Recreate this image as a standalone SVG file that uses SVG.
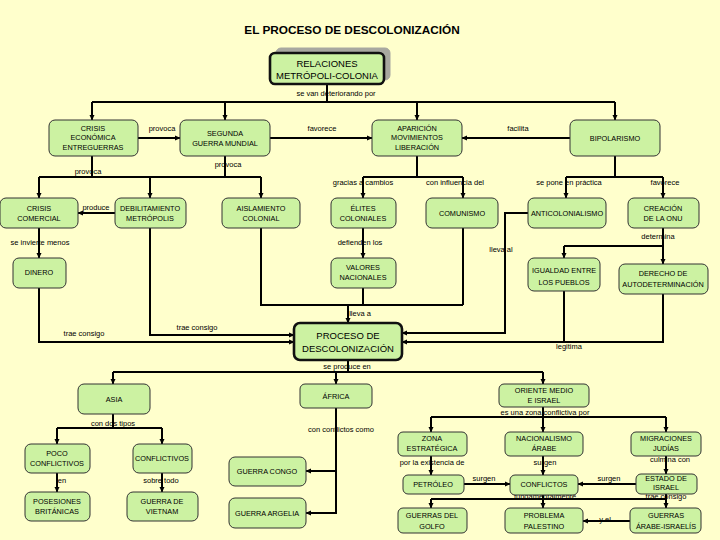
<svg xmlns="http://www.w3.org/2000/svg" width="720" height="540" viewBox="0 0 720 540">
<defs>
<marker id="a" markerWidth="6" markerHeight="6" refX="5" refY="3" orient="auto" markerUnits="userSpaceOnUse"><path d="M0,0.5 L5.5,3 L0,5.5 z" fill="#000"/></marker>
<style>
.n rect{fill:#CCF2A2;stroke:#333;stroke-width:1}
.k rect{fill:#CCF2A2;stroke:#111;stroke-width:2.6}
text{font-family:"Liberation Sans",Arial,sans-serif;fill:#000}
.t{font-size:7.3px;text-anchor:middle}
.l{font-size:7.5px;text-anchor:middle}
.b{font-size:9.5px;text-anchor:middle}
#conn path{fill:none;stroke:#000;stroke-width:2}
#conn path.ar{marker-end:url(#a)}
</style>
</defs>
<rect width="720" height="540" fill="#FFFFCC"/>
<text x="352" y="34" font-size="11.8" font-weight="bold" text-anchor="middle">EL PROCESO DE DESCOLONIZACIÓN</text>

<g id="conn">
<path d="M327,84V102M92,102H615"/>
<path class="ar" d="M92,102V120"/><path class="ar" d="M225,102V120"/><path class="ar" d="M417,102V120"/><path class="ar" d="M615,102V120"/>
<path class="ar" d="M138,138H180"/>
<path class="ar" d="M270,138H372"/>
<path class="ar" d="M570,138H462"/>
<path d="M92,156V177M225,156V177M39,177H261"/>
<path class="ar" d="M39,177V198"/><path class="ar" d="M150,177V198"/><path class="ar" d="M261,177V198"/>
<path class="ar" d="M115,213H78"/>
<path class="ar" d="M39,228V258"/>
<path d="M417,156V177M363,177H463"/>
<path class="ar" d="M363,177V198"/><path class="ar" d="M463,177V198"/>
<path d="M615,156V177M566,177H663"/>
<path class="ar" d="M566,177V198"/><path class="ar" d="M663,177V198"/>
<path d="M663,228V246M564,246H663"/>
<path class="ar" d="M564,246V258"/><path class="ar" d="M663,246V264"/>
<path class="ar" d="M363,228V258"/>
<path class="ar" d="M39,288V342H294"/>
<path class="ar" d="M150,228V335H294"/>
<path d="M261,228V305H463M363,288V305M463,228V305"/>
<path class="ar" d="M348,305V323"/>
<path class="ar" d="M528,213H505V333H402"/>
<path d="M564,291V342"/>
<path class="ar" d="M663,294V342H402"/>
<path d="M348,360V372M113,372H543"/>
<path class="ar" d="M113,372V384"/><path class="ar" d="M336,372V384"/><path class="ar" d="M543,372V384"/>
<path d="M113,414V428M57,428H162"/>
<path class="ar" d="M57,428V444"/><path class="ar" d="M162,428V444"/>
<path class="ar" d="M57,473V492"/><path class="ar" d="M162,473V492"/>
<path class="ar" d="M336,408V513H306"/>
<path class="ar" d="M336,471H306"/>
<path d="M543,407V417M431,417H666"/>
<path class="ar" d="M431,417V432"/><path class="ar" d="M543,417V432"/><path class="ar" d="M666,417V432"/>
<path class="ar" d="M431,456V475"/><path class="ar" d="M543,456V475"/><path class="ar" d="M666,456V474"/>
<path class="ar" d="M464,484H510"/>
<path class="ar" d="M636,484H578"/>
<path d="M431,499H666"/>
<path class="ar" d="M543,495V508"/><path class="ar" d="M431,499V508"/><path class="ar" d="M666,494V508"/>
<path class="ar" d="M630,521H583"/>
</g>

<g id="labels">
<text class="l" x="336" y="96">se van deteriorando por</text>
<text class="l" x="162" y="131">provoca</text>
<text class="l" x="322" y="131">favorece</text>
<text class="l" x="518" y="131">facilita</text>
<text class="l" x="228" y="167">provoca</text>
<text class="l" x="88" y="174">provoca</text>
<text class="l" x="363" y="185">gracias a cambios</text>
<text class="l" x="455" y="185">con influencia del</text>
<text class="l" x="569" y="185">se pone en práctica</text>
<text class="l" x="665" y="185">favorece</text>
<text class="l" x="96" y="210">produce</text>
<text class="l" x="40" y="245">se invierte menos</text>
<text class="l" x="360" y="245">defienden los</text>
<text class="l" x="501" y="252">lleva al</text>
<text class="l" x="658" y="239">determina</text>
<text class="l" x="360" y="316">lleva a</text>
<text class="l" x="197" y="330">trae consigo</text>
<text class="l" x="84" y="336">trae consigo</text>
<text class="l" x="569" y="349">legitima</text>
<text class="l" x="347" y="369">se produce en</text>
<text class="l" x="113" y="426">con dos tipos</text>
<text class="l" x="545" y="415">es una zona conflictiva por</text>
<text class="l" x="341" y="432">con conflictos como</text>
<text class="l" x="62" y="483">en</text>
<text class="l" x="161" y="483">sobre todo</text>
<text class="l" x="432" y="465">por la existencia de</text>
<text class="l" x="545" y="465">surgen</text>
<text class="l" x="670" y="462">culmina con</text>
<text class="l" x="484" y="481">surgen</text>
<text class="l" x="609" y="481">surgen</text>
<text class="l" x="545" y="499">fundamentalmente</text>
<text class="l" x="666" y="499">trae consigo</text>
<text class="l" x="605" y="522">y el</text>
</g>

<g id="relaciones" class="k">
<rect x="276" y="48" width="114" height="32" rx="5" style="fill:#A8A8A0;stroke:#A8A8A0;stroke-width:1"/>
<rect x="270" y="53" width="114" height="31" rx="5"/>
<text class="b" x="327" y="67">RELACIONES</text><text class="b" x="327" y="79">METRÓPOLI-COLONIA</text>
</g>
<g id="crisis-economica" class="n"><rect x="49" y="120" width="89" height="36" rx="6"/>
<text class="t" x="93" y="131">CRISIS</text><text class="t" x="93" y="140">ECONÓMICA</text><text class="t" x="93" y="150">ENTREGUERRAS</text></g>
<g id="segunda-guerra" class="n"><rect x="180" y="120" width="90" height="36" rx="6"/>
<text class="t" x="225" y="136">SEGUNDA</text><text class="t" x="225" y="146">GUERRA MUNDIAL</text></g>
<g id="aparicion" class="n"><rect x="372" y="120" width="90" height="36" rx="6"/>
<text class="t" x="417" y="131">APARICIÓN</text><text class="t" x="417" y="140">MOVIMIENTOS</text><text class="t" x="417" y="150">LIBERACIÓN</text></g>
<g id="bipolarismo" class="n"><rect x="570" y="120" width="90" height="36" rx="6"/>
<text class="t" x="615" y="141">BIPOLARISMO</text></g>

<g id="crisis-comercial" class="n"><rect x="0" y="198" width="78" height="30" rx="6"/>
<text class="t" x="39" y="211">CRISIS</text><text class="t" x="39" y="221">COMERCIAL</text></g>
<g id="debilitamiento" class="n"><rect x="115" y="198" width="71" height="30" rx="6"/>
<text class="t" x="150" y="211">DEBILITAMIENTO</text><text class="t" x="150" y="221">METRÓPOLIS</text></g>
<g id="aislamiento" class="n"><rect x="222" y="198" width="78" height="30" rx="6"/>
<text class="t" x="261" y="211">AISLAMIENTO</text><text class="t" x="261" y="221">COLONIAL</text></g>
<g id="elites" class="n"><rect x="331" y="198" width="65" height="30" rx="6"/>
<text class="t" x="363" y="211">ÉLITES</text><text class="t" x="363" y="221">COLONIALES</text></g>
<g id="comunismo" class="n"><rect x="426" y="198" width="72" height="30" rx="6"/>
<text class="t" x="462" y="216">COMUNISMO</text></g>
<g id="anticolonialismo" class="n"><rect x="528" y="198" width="78" height="30" rx="6"/>
<text class="t" x="567" y="216">ANTICOLONIALISMO</text></g>
<g id="onu" class="n"><rect x="628" y="198" width="71" height="30" rx="6"/>
<text class="t" x="663" y="211">CREACIÓN</text><text class="t" x="663" y="221">DE LA ONU</text></g>

<g id="dinero" class="n"><rect x="13" y="258" width="53" height="30" rx="6"/>
<text class="t" x="39" y="275">DINERO</text></g>
<g id="valores" class="n"><rect x="331" y="258" width="65" height="30" rx="6"/>
<text class="t" x="363" y="270">VALORES</text><text class="t" x="363" y="280">NACIONALES</text></g>
<g id="igualdad" class="n"><rect x="528" y="258" width="72" height="33" rx="6"/>
<text class="t" x="564" y="273">IGUALDAD ENTRE</text><text class="t" x="564" y="285">LOS PUEBLOS</text></g>
<g id="derecho" class="n"><rect x="619" y="264" width="89" height="30" rx="6"/>
<text class="t" x="663" y="276">DERECHO DE</text><text class="t" x="663" y="287">AUTODETERMINACIÓN</text></g>

<g id="proceso" class="k"><rect x="294" y="323" width="108" height="37" rx="6"/>
<text class="b" x="348" y="339">PROCESO DE</text><text class="b" x="348" y="352">DESCOLONIZACIÓN</text></g>

<g id="asia" class="n"><rect x="78" y="384" width="72" height="30" rx="6"/>
<text class="t" x="114" y="402">ASIA</text></g>
<g id="africa" class="n"><rect x="300" y="384" width="72" height="24" rx="5"/>
<text class="t" x="336" y="399">ÁFRICA</text></g>
<g id="oriente" class="n"><rect x="499" y="384" width="90" height="23" rx="5"/>
<text class="t" x="544" y="393">ORIENTE MEDIO</text><text class="t" x="544" y="403">E ISRAEL</text></g>

<g id="poco" class="n"><rect x="25" y="444" width="65" height="29" rx="6"/>
<text class="t" x="57" y="456">POCO</text><text class="t" x="57" y="466">CONFLICTIVOS</text></g>
<g id="conflictivos" class="n"><rect x="133" y="444" width="59" height="29" rx="6"/>
<text class="t" x="162" y="461">CONFLICTIVOS</text></g>
<g id="posesiones" class="n"><rect x="25" y="492" width="65" height="29" rx="6"/>
<text class="t" x="57" y="504">POSESIONES</text><text class="t" x="57" y="514">BRITÁNICAS</text></g>
<g id="vietnam" class="n"><rect x="127" y="492" width="71" height="29" rx="6"/>
<text class="t" x="162" y="504">GUERRA DE</text><text class="t" x="162" y="514">VIETNAM</text></g>
<g id="congo" class="n"><rect x="229" y="457" width="77" height="29" rx="6"/>
<text class="t" x="267" y="474">GUERRA CONGO</text></g>
<g id="argelia" class="n"><rect x="229" y="498" width="77" height="30" rx="6"/>
<text class="t" x="267" y="516">GUERRA ARGELIA</text></g>

<g id="zona" class="n"><rect x="398" y="432" width="69" height="24" rx="5"/>
<text class="t" x="432" y="441">ZONA</text><text class="t" x="432" y="451">ESTRATÉGICA</text></g>
<g id="nacionalismo" class="n"><rect x="505" y="432" width="78" height="24" rx="5"/>
<text class="t" x="544" y="441">NACIONALISMO</text><text class="t" x="544" y="451">ÁRABE</text></g>
<g id="migraciones" class="n"><rect x="631" y="432" width="70" height="24" rx="5"/>
<text class="t" x="666" y="441">MIGRACIONES</text><text class="t" x="666" y="451">JUDÍAS</text></g>
<g id="petroleo" class="n"><rect x="403" y="475" width="61" height="19" rx="5"/>
<text class="t" x="433" y="487">PETRÓLEO</text></g>
<g id="conflictos" class="n"><rect x="510" y="475" width="68" height="20" rx="5"/>
<text class="t" x="544" y="487">CONFLICTOS</text></g>
<g id="estado" class="n"><rect x="636" y="474" width="61" height="20" rx="5"/>
<text class="t" x="666" y="481">ESTADO DE</text><text class="t" x="666" y="490">ISRAEL</text></g>
<g id="golfo" class="n"><rect x="398" y="508" width="69" height="25" rx="5"/>
<text class="t" x="432" y="518">GUERRAS DEL</text><text class="t" x="432" y="529">GOLFO</text></g>
<g id="palestino" class="n"><rect x="505" y="508" width="78" height="25" rx="5"/>
<text class="t" x="544" y="518">PROBLEMA</text><text class="t" x="544" y="529">PALESTINO</text></g>
<g id="arabe-israelis" class="n"><rect x="630" y="508" width="71" height="25" rx="5"/>
<text class="t" x="666" y="518">GUERRAS</text><text class="t" x="666" y="529">ÁRABE-ISRAELÍS</text></g>
</svg>
